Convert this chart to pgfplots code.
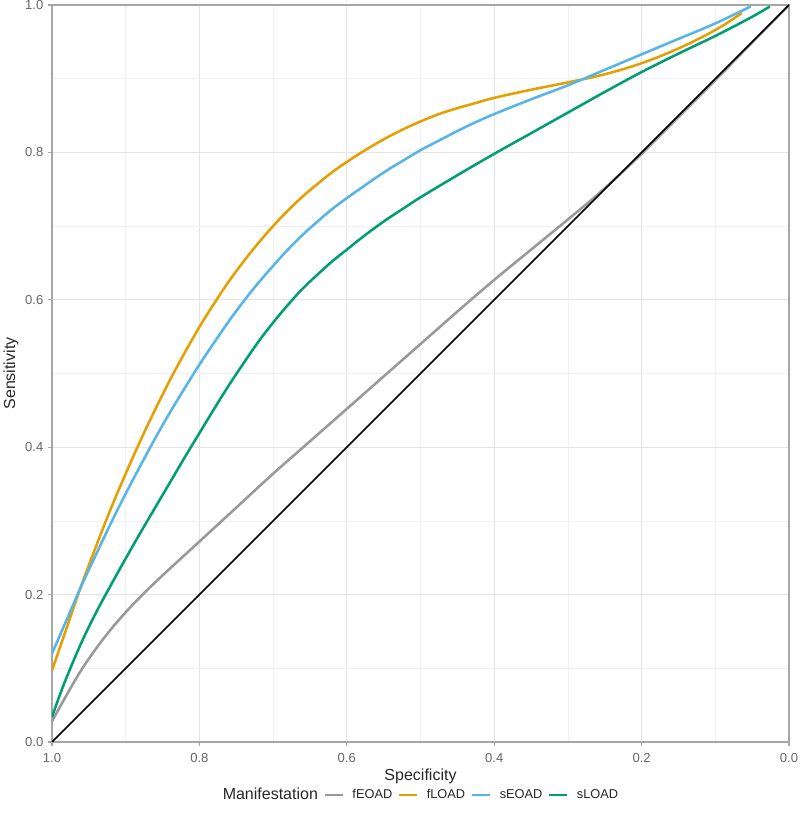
\documentclass[border=0pt]{standalone}
\usepackage{pgfplots}
\pgfplotsset{compat=1.18}
\usepackage{fontspec}
\setmainfont{Liberation Sans}
\definecolor{cOr}{HTML}{E69F00}
\definecolor{cBl}{HTML}{56B4E9}
\definecolor{cGr}{HTML}{009E73}
\definecolor{cGy}{HTML}{999999}
\definecolor{frameC}{HTML}{A6A6A6}
\definecolor{tickC}{HTML}{666666}
\definecolor{gmaj}{HTML}{E4E4E4}
\definecolor{gmin}{HTML}{F1F1F1}
\begin{document}
\begin{tikzpicture}
\useasboundingbox (-39pt,-66pt) rectangle (560.25pt,556.5pt);
\begin{axis}[
  at={(0,0)}, anchor=south west,
  scale only axis, width=552.75pt, height=552.75pt,
  xmin=0, xmax=1, ymin=0, ymax=1, x dir=reverse,
  xtick={0,0.2,0.4,0.6,0.8,1}, ytick={0,0.2,0.4,0.6,0.8,1},
  minor xtick={0.1,0.3,0.5,0.7,0.9}, minor ytick={0.1,0.3,0.5,0.7,0.9},
  grid=both,
  major grid style={gmaj, line width=0.6pt},
  minor grid style={gmin, line width=0.4pt},
  axis line style={frameC, line width=0.9pt},
  tick style={frameC, line width=0.8pt},
  major tick length=3pt, minor tick length=0pt,
  tick align=outside, tick pos=left,
  /pgf/number format/assume math mode=true,
  /pgf/number format/fixed, /pgf/number format/fixed zerofill, /pgf/number format/precision=1,
  tick label style={font=\fontsize{9.8}{11}\selectfont, text=tickC},
  xticklabel style={yshift=-2pt},
  xlabel={Specificity}, ylabel={Sensitivity},
  label style={font=\fontsize{12}{14}\selectfont, text=black!85},
  xlabel style={at={(axis description cs:0.5,-0.047)}, anchor=center},
  ylabel style={at={(axis description cs:-0.0556,0.5)}, anchor=center},
  legend style={at={(axis description cs:0.5,-0.0719)}, anchor=center, draw=none, fill=none,
    legend columns=-1, font=\fontsize{9.6}{11}\selectfont, text=black!85,
    /tikz/every even column/.append style={column sep=2pt}},
  legend image code/.code={\draw[#1] (0pt,0pt) -- (13.5pt,0pt); \path (18pt,0pt);},
  every axis plot/.append style={line width=1.9pt, smooth, tension=0.6},
]
\addlegendimage{empty legend}
\addlegendentry{\fontsize{12}{14}\selectfont Manifestation}

\addplot[cGy] coordinates {
(1.0,0.028)(0.98,0.064)(0.96,0.098)(0.94,0.127)(0.92,0.153)(0.9,0.176)(0.88,0.197)(0.85,0.226)(0.8,0.272)(0.75,0.318)(0.7,0.364)(0.65,0.408)(0.6,0.452)(0.55,0.496)(0.5,0.54)(0.45,0.584)(0.4,0.627)(0.35,0.668)(0.3,0.709)(0.256,0.746)(0.2,0.798)(0.15,0.848)(0.1,0.898)(0.05,0.949)(0.0,1.0)
};
\addlegendentry{fEOAD}

\addplot[cOr] coordinates {
(1.0,0.097)(0.98,0.155)(0.96,0.213)(0.94,0.266)(0.92,0.317)(0.9,0.364)(0.88,0.409)(0.86,0.451)(0.84,0.491)(0.82,0.528)(0.8,0.563)(0.78,0.595)(0.76,0.625)(0.74,0.652)(0.72,0.677)(0.7,0.70)(0.68,0.721)(0.66,0.74)(0.64,0.757)(0.62,0.773)(0.6,0.787)(0.58,0.80)(0.56,0.812)(0.54,0.823)(0.52,0.833)(0.5,0.842)(0.475,0.852)(0.45,0.86)(0.425,0.867)(0.4,0.874)(0.35,0.885)(0.3,0.895)(0.25,0.906)(0.2,0.921)(0.15,0.941)(0.1,0.966)(0.064,0.989)
};
\addlegendentry{fLOAD}

\addplot[cBl] coordinates {
(1.0,0.12)(0.98,0.166)(0.96,0.212)(0.94,0.255)(0.92,0.297)(0.9,0.337)(0.88,0.375)(0.86,0.412)(0.84,0.447)(0.82,0.48)(0.8,0.512)(0.78,0.542)(0.76,0.571)(0.74,0.598)(0.72,0.623)(0.7,0.646)(0.68,0.668)(0.66,0.688)(0.64,0.706)(0.62,0.723)(0.6,0.738)(0.58,0.752)(0.56,0.766)(0.54,0.779)(0.52,0.791)(0.5,0.803)(0.475,0.816)(0.45,0.829)(0.425,0.841)(0.4,0.852)(0.35,0.872)(0.3,0.891)(0.25,0.912)(0.2,0.933)(0.15,0.954)(0.1,0.975)(0.052,0.998)
};
\addlegendentry{sEOAD}

\addplot[cGr] coordinates {
(1.0,0.034)(0.99,0.062)(0.98,0.088)(0.96,0.135)(0.94,0.176)(0.92,0.213)(0.9,0.249)(0.88,0.284)(0.86,0.318)(0.84,0.352)(0.82,0.386)(0.8,0.419)(0.78,0.452)(0.76,0.484)(0.74,0.514)(0.72,0.543)(0.7,0.569)(0.68,0.593)(0.66,0.615)(0.64,0.634)(0.62,0.652)(0.6,0.668)(0.58,0.684)(0.56,0.699)(0.54,0.713)(0.52,0.726)(0.5,0.739)(0.45,0.769)(0.4,0.798)(0.35,0.826)(0.3,0.854)(0.25,0.882)(0.2,0.909)(0.15,0.934)(0.1,0.958)(0.05,0.984)(0.026,0.998)
};
\addlegendentry{sLOAD}

\addplot[black, line width=1.1pt, sharp plot, forget plot] coordinates {(1,0) (0,1)};
\end{axis}
\end{tikzpicture}
\end{document}
